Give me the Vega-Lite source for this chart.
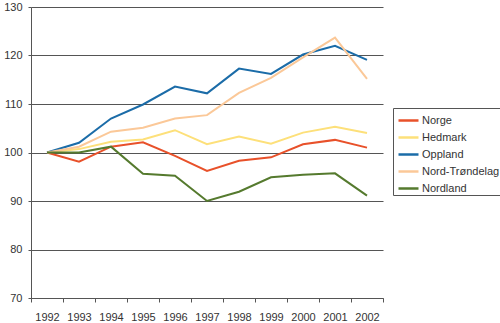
{
  "$schema": "https://vega.github.io/schema/vega-lite/v6.json",
  "autosize": "none",
  "width": 352,
  "height": 291,
  "padding": {"left": 31, "top": 7, "right": 117, "bottom": 25},
  "background": "white",
  "config": {
    "view": {"stroke": null},
    "font": "Liberation Sans"
  },
  "data": {
    "values": [
      {"year": "1992", "series": "Norge", "value": 100},
      {"year": "1993", "series": "Norge", "value": 98.1},
      {"year": "1994", "series": "Norge", "value": 101.2},
      {"year": "1995", "series": "Norge", "value": 102.1},
      {"year": "1996", "series": "Norge", "value": 99.3},
      {"year": "1997", "series": "Norge", "value": 96.2},
      {"year": "1998", "series": "Norge", "value": 98.3},
      {"year": "1999", "series": "Norge", "value": 99.0},
      {"year": "2000", "series": "Norge", "value": 101.7},
      {"year": "2001", "series": "Norge", "value": 102.6},
      {"year": "2002", "series": "Norge", "value": 101.0},
      {"year": "1992", "series": "Hedmark", "value": 100},
      {"year": "1993", "series": "Hedmark", "value": 100.7},
      {"year": "1994", "series": "Hedmark", "value": 102.2},
      {"year": "1995", "series": "Hedmark", "value": 102.7},
      {"year": "1996", "series": "Hedmark", "value": 104.6},
      {"year": "1997", "series": "Hedmark", "value": 101.7},
      {"year": "1998", "series": "Hedmark", "value": 103.3},
      {"year": "1999", "series": "Hedmark", "value": 101.8},
      {"year": "2000", "series": "Hedmark", "value": 104.1},
      {"year": "2001", "series": "Hedmark", "value": 105.3},
      {"year": "2002", "series": "Hedmark", "value": 104.0},
      {"year": "1992", "series": "Oppland", "value": 100},
      {"year": "1993", "series": "Oppland", "value": 102.0},
      {"year": "1994", "series": "Oppland", "value": 107.0},
      {"year": "1995", "series": "Oppland", "value": 109.9},
      {"year": "1996", "series": "Oppland", "value": 113.6},
      {"year": "1997", "series": "Oppland", "value": 112.2},
      {"year": "1998", "series": "Oppland", "value": 117.3},
      {"year": "1999", "series": "Oppland", "value": 116.2},
      {"year": "2000", "series": "Oppland", "value": 120.2},
      {"year": "2001", "series": "Oppland", "value": 122.0},
      {"year": "2002", "series": "Oppland", "value": 119.1},
      {"year": "1992", "series": "Nord-Trøndelag", "value": 100},
      {"year": "1993", "series": "Nord-Trøndelag", "value": 101.2},
      {"year": "1994", "series": "Nord-Trøndelag", "value": 104.3},
      {"year": "1995", "series": "Nord-Trøndelag", "value": 105.1},
      {"year": "1996", "series": "Nord-Trøndelag", "value": 107.0},
      {"year": "1997", "series": "Nord-Trøndelag", "value": 107.7},
      {"year": "1998", "series": "Nord-Trøndelag", "value": 112.3},
      {"year": "1999", "series": "Nord-Trøndelag", "value": 115.4},
      {"year": "2000", "series": "Nord-Trøndelag", "value": 119.6},
      {"year": "2001", "series": "Nord-Trøndelag", "value": 123.7},
      {"year": "2002", "series": "Nord-Trøndelag", "value": 115.2},
      {"year": "1992", "series": "Nordland", "value": 100},
      {"year": "1993", "series": "Nordland", "value": 100.0},
      {"year": "1994", "series": "Nordland", "value": 101.2},
      {"year": "1995", "series": "Nordland", "value": 95.6},
      {"year": "1996", "series": "Nordland", "value": 95.2},
      {"year": "1997", "series": "Nordland", "value": 90.0},
      {"year": "1998", "series": "Nordland", "value": 91.9},
      {"year": "1999", "series": "Nordland", "value": 94.9},
      {"year": "2000", "series": "Nordland", "value": 95.4},
      {"year": "2001", "series": "Nordland", "value": 95.7},
      {"year": "2002", "series": "Nordland", "value": 91.1}
    ]
  },
  "mark": {"type": "line", "strokeWidth": 2, "strokeJoin": "miter"},
  "encoding": {
    "x": {
      "field": "year",
      "type": "ordinal",
      "bandPosition": 0.5,
      "scale": {"type": "band", "paddingInner": 0, "paddingOuter": 0},
      "axis": {
        "title": null,
        "labelAngle": 0,
        "tickBand": "extent",
        "grid": false,
        "domainColor": "#555555",
        "tickColor": "#555555",
        "tickSize": 4,
        "labelPadding": 9,
        "labelFontSize": 11,
        "labelColor": "#333333",
        "labelFont": "Liberation Sans"
      }
    },
    "y": {
      "field": "value",
      "type": "quantitative",
      "scale": {"domain": [70, 130], "nice": false, "zero": false},
      "axis": {
        "title": null,
        "values": [70, 80, 90, 100, 110, 120, 130],
        "grid": true,
        "gridColor": "#555555",
        "gridOpacity": 1,
        "domainColor": "#555555",
        "tickColor": "#555555",
        "tickSize": 3,
        "labelPadding": 6,
        "labelFontSize": 11,
        "labelColor": "#333333",
        "labelFont": "Liberation Sans"
      }
    },
    "color": {
      "field": "series",
      "type": "nominal",
      "scale": {
        "domain": ["Norge", "Hedmark", "Oppland", "Nord-Trøndelag", "Nordland"],
        "range": ["#e8512a", "#fde07a", "#1b6ca8", "#fbc898", "#557a2e"]
      },
      "legend": {
        "title": null,
        "orient": "none",
        "legendX": 362,
        "legendY": 101,
        "symbolType": "stroke",
        "symbolSize": 400,
        "symbolStrokeWidth": 2.5,
        "symbolOffset": 3,
        "labelFontSize": 11,
        "labelColor": "#333333",
        "labelFont": "Liberation Sans",
        "labelOffset": 2,
        "rowPadding": -2.6,
        "padding": 1,
        "strokeColor": "#555555",
        "fillColor": "white"
      }
    }
  }
}
